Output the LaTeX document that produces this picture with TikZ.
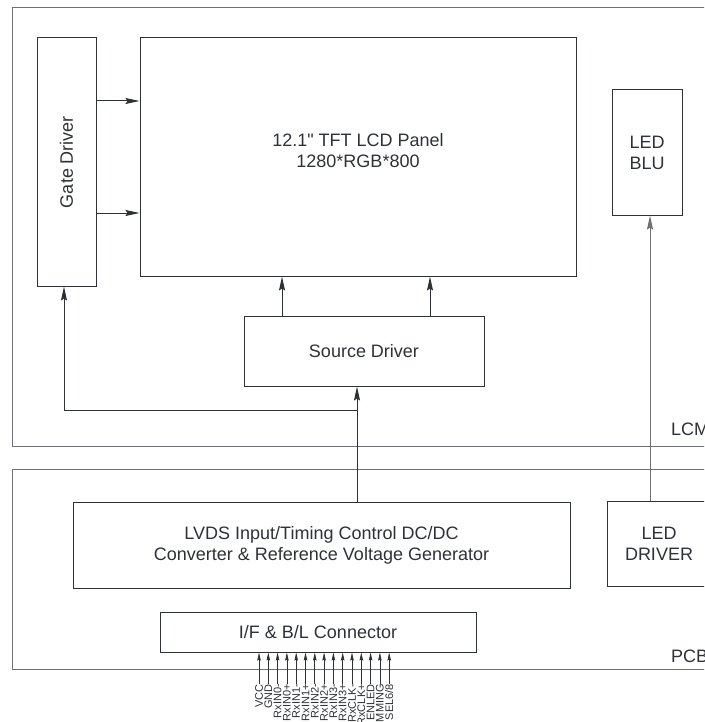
\documentclass[tikz,border=0pt]{standalone}
\usepackage{fontspec}
\setmainfont{Liberation Sans}
\newfontfamily\plainsans{Liberation Sans}
\usepackage{tikz}
\usetikzlibrary{arrows.meta,positioning,calc}
\definecolor{ink}{HTML}{2E3136}
\definecolor{frm}{HTML}{6E7073}
\tikzset{
  blk/.style={draw=ink,line width=1pt,inner sep=0pt,align=center,text=ink,font=\fontsize{18}{21}\selectfont},
  frame/.style={draw=frm,line width=1pt,anchor=north west,inner sep=0pt},
  arr/.style={-{Stealth[length=14pt,width=6pt,inset=2pt]},draw=ink,line width=1pt},
  parr/.style={-{Stealth[length=8pt,width=3.5pt,inset=1pt]},draw=ink,line width=0.7pt},
  lbl/.style={text=ink,font=\fontsize{18}{21}\selectfont,anchor=west,inner sep=0pt},
  pinlbl/.style={text=ink,font=\fontsize{11}{12}\selectfont,rotate=90,anchor=east,inner sep=0pt},
}

\begin{document}
\begin{tikzpicture}[x=1pt,y=-1pt]
 \useasboundingbox (0,0) rectangle (704,722);
 \clip (0,0) rectangle (704,722);
 % module frames
 \node[frame,minimum width=730pt,minimum height=439pt] (lcm) at (12,7){};
 \node[frame,minimum width=730pt,minimum height=200pt] (pcb) at (12,469){};
 \node[lbl] (lcmlbl) at (671,429){LCM};
 \node[lbl] (pcblbl) at (671,656){PCB};
 % LCM blocks
 \node[blk,minimum width=59pt,minimum height=248pt] (gate) at (66.5,162){\rotatebox{90}{Gate Driver}};
 \node[blk,minimum width=436pt,minimum height=238pt] (panel) at (358,157){};
 \node[text=ink,align=center,font=\fontsize{18}{21}\selectfont] (paneltxt) at (358,151){12.1{\plainsans"} TFT LCD Panel\\1280*RGB*800};
 \node[blk,minimum width=70pt,minimum height=125pt] (blu) at (647,152.5){LED\\BLU};
 \node[blk,minimum width=240pt,minimum height=70pt] (src) at (364,351){Source Driver};
 % PCB blocks
 \node[blk,minimum width=497pt,minimum height=86pt] (lvds) at (321.5,545){LVDS Input/Timing Control DC/DC\\Converter \& Reference Voltage Generator};
 \node[blk,minimum width=104pt,minimum height=85pt] (ledd) at (659,543.5){LED\\DRIVER};
 \node[blk,minimum width=316pt,minimum height=40pt] (ifc) at (318,632){I/F \& B/L Connector};
 % gate and source driver outputs
 \draw[arr] (gate.east |- 0,101) -- (panel.west |- 0,101);
 \draw[arr] (gate.east |- 0,213) -- (panel.west |- 0,213);
 \draw[arr] (src.north -| 282,0) -- (panel.south -| 282,0);
 \draw[arr] (src.north -| 430,0) -- (panel.south -| 430,0);
 % timing control to drivers
 \coordinate (tap) at (357,410);
 \draw[draw=ink,line width=1pt] (lvds.north -| tap) -- (tap);
 \draw[arr] (tap) -- (src.south -| tap);
 \draw[arr] (tap) -| (gate.south -| 64,0);
 % backlight
 \draw[arr,draw=frm] (ledd.north -| 650,0) -- (blu.south -| 650,0);
 % interface pins
 \foreach \name [count=\i from 0] in {VCC,GND,RxIN0-,RxIN0+,RxIN1-,RxIN1+,RxIN2-,RxIN2+,RxIN3-,RxIN3+,RxCLK-,RxCLK+,ENLED,IMMING,SEL6/8}{
   \node[pinlbl] (pin\i) at (259+9.3*\i,684){\name};
   \draw[parr] (pin\i.east) -- (ifc.south -| pin\i.east);
 }
\end{tikzpicture}
\end{document}
